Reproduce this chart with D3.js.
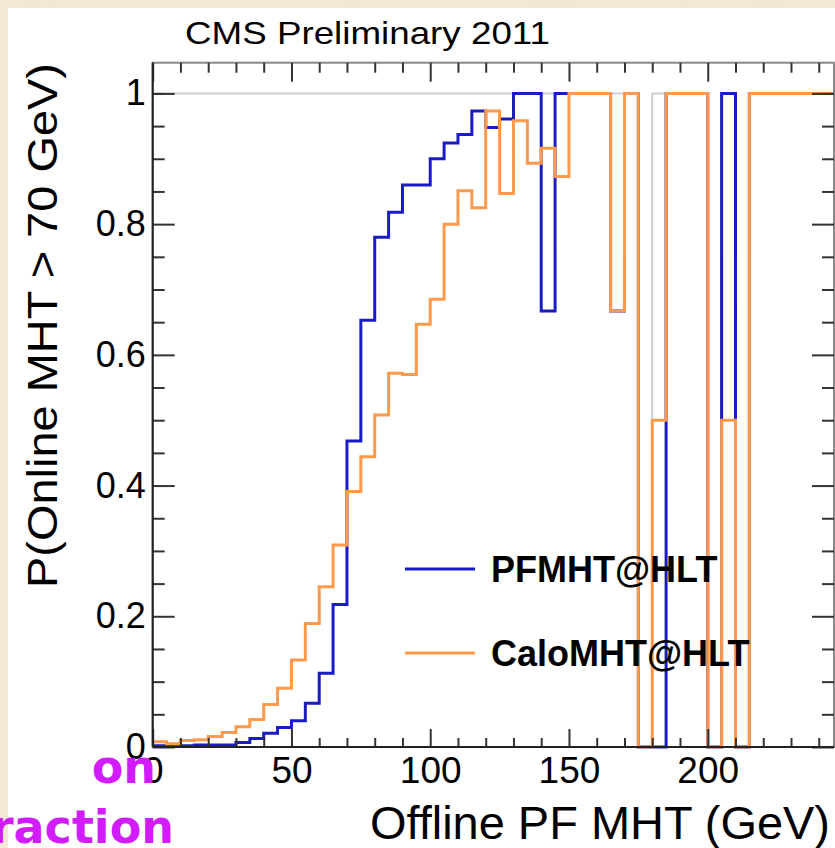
<!DOCTYPE html>
<html lang="en">
<head>
  <meta charset="UTF-8">
  <title>PFMHT vs CaloMHT turn-on</title>
  <style>
  body {
    margin: 0;
    background: #efe2cb;
  }
  svg {
    display: block;
  }
  text {
    font-family: "Liberation Sans", Arial, Helvetica, sans-serif;
  }
  </style>
</head>
<body>
<svg width="835" height="848"></svg>
<script src="https://cdnjs.cloudflare.com/ajax/libs/d3/7.8.5/d3.min.js"></script>
<script>
// lower edges of the 5 GeV bins
var binEdges = [0, 5, 10, 15, 20, 25, 30, 35, 40, 45, 50, 55, 60, 65, 70, 75, 80, 85, 90, 95,
  100, 105, 110, 115, 120, 125, 130, 135, 140, 145, 150, 155, 160, 165, 170, 175, 180, 185, 190, 195,
  200, 205, 210, 215, 220, 225, 230, 235, 240, 245];
var binWidth = 5;

var pfmht = [0.002, 0.002, 0.002, 0.003, 0.003, 0.003, 0.007, 0.013, 0.021, 0.030,
  0.040, 0.067, 0.113, 0.218, 0.468, 0.653, 0.780, 0.818, 0.860, 0.860,
  0.900, 0.924, 0.937, 0.973, 0.948, 0.961, 1, 1, 0.667, 1,
  1, 1, 1, 0.667, 1, 0, 0, 1, 1, 1,
  0, 1, 0, 1, 1, 1, 1, 1, 1, 1];

var calomht = [0.008, 0.005, 0.010, 0.011, 0.016, 0.022, 0.031, 0.042, 0.065, 0.090,
  0.133, 0.189, 0.245, 0.309, 0.391, 0.444, 0.508, 0.572, 0.570, 0.647,
  0.685, 0.800, 0.851, 0.825, 0.973, 0.847, 0.958, 0.893, 0.916, 0.873,
  1, 1, 1, 0.667, 1, 0, 0.5, 1, 1, 1,
  0, 0.5, 0, 1, 1, 1, 1, 1, 1, 1];

// grey reference histogram sitting at 1 (empty where no events)
var reference = [1, 1, 1, 1, 1, 1, 1, 1, 1, 1,
  1, 1, 1, 1, 1, 1, 1, 1, 1, 1,
  1, 1, 1, 1, 1, 1, 1, 1, 1, 1,
  1, 1, 1, 1, 1, 0, 1, 1, 1, 1,
  0, 1, 0, 1, 1, 1, 1, 1, 1, 1];

var xTicks = [0, 50, 100, 150, 200];
var xMinorTicks = [10, 20, 30, 40, 60, 70, 80, 90, 110, 120, 130, 140, 160, 170, 180, 190, 210, 220, 230, 240];
var yTicks = [0, 0.2, 0.4, 0.6, 0.8, 1];
var yMinorTicks = [0.05, 0.1, 0.15, 0.25, 0.3, 0.35, 0.45, 0.5, 0.55, 0.65, 0.7, 0.75, 0.85, 0.9, 0.95, 1.0];
var legendLabels = ["PFMHT@HLT", "CaloMHT@HLT"];
var colors = { pf: "#1b1bc6", calo: "#ff9a4c", ref: "#cfcfcf" };

var svg = d3.select("svg"),
    padLeft = 152.7, padRight = 834, padTop = 62.7, padBottom = 747;

var x = d3.scaleLinear().domain([0, 245.5]).range([padLeft, padRight]);
var y = d3.scaleLinear().domain([0, 1.047]).range([padBottom, padTop]);

// parchment-like backdrop and the white slide panel
var defs = svg.append("defs");
var f = defs.append("filter").attr("id", "paper");
f.append("feTurbulence").attr("type", "fractalNoise").attr("baseFrequency", "0.012 0.09").attr("numOctaves", 3).attr("seed", 4);
f.append("feColorMatrix").attr("values",
  "0 0 0 0 0.93  0 0 0 0 0.85  0 0 0 0 0.74  0 0 0 0.55 0");
f.append("feComposite").attr("in2", "SourceGraphic").attr("operator", "over");

svg.append("rect").attr("width", 835).attr("height", 848).attr("fill", "#f2e6d2").attr("filter", "url(#paper)");
svg.append("rect").attr("x", 8).attr("y", 8).attr("width", 827).attr("height", 840).attr("fill", "#fff");

defs.append("clipPath").attr("id", "plot")
  .append("rect").attr("x", padLeft).attr("y", padTop).attr("width", padRight - padLeft).attr("height", padBottom - padTop + 2);

// histogram outline
function histPoints(vals) {
  var pts = binEdges.map(function(e, i) { return [e, vals[i]]; });
  pts.push([binEdges[binEdges.length - 1] + binWidth, vals[vals.length - 1]]);
  return pts;
}
var line = d3.line()
    .x(function(d) { return x(d[0]); })
    .y(function(d) { return y(d[1]); })
    .curve(d3.curveStepAfter);

var g = svg.append("g").attr("clip-path", "url(#plot)");
[[reference, colors.ref, 2], [pfmht, colors.pf, 3], [calomht, colors.calo, 3]].forEach(function(s) {
  g.append("path")
    .attr("d", line(histPoints(s[0])))
    .attr("fill", "none")
    .attr("stroke", s[1])
    .attr("stroke-width", s[2]);
});

// frame
svg.append("rect")
  .attr("x", padLeft).attr("y", padTop).attr("width", padRight - padLeft).attr("height", padBottom - padTop)
  .attr("fill", "none").attr("stroke", "#888").attr("stroke-width", 2);

function styleAxis(sel) {
  sel.select(".domain").remove();
  sel.selectAll(".tick line").attr("stroke", "#333").attr("stroke-width", 2);
}

// y axes, ticks pointing inwards
svg.append("g").attr("transform", "translate(" + padLeft + ",0)")
  .call(d3.axisLeft(y).tickValues(yMinorTicks).tickSize(-12).tickFormat(""))
  .call(styleAxis);
svg.append("g").attr("transform", "translate(" + padLeft + ",0)")
  .call(d3.axisLeft(y).tickValues(yTicks).tickSize(-22).tickPadding(7).tickFormat(function(d) { return String(d); }))
  .call(styleAxis)
  .attr("font-size", 36).attr("font-family", null)
  .selectAll("text").attr("fill", "#000");
svg.append("g").attr("transform", "translate(" + padRight + ",0)")
  .call(d3.axisRight(y).tickValues(yMinorTicks).tickSize(-12).tickFormat(""))
  .call(styleAxis);
svg.append("g").attr("transform", "translate(" + padRight + ",0)")
  .call(d3.axisRight(y).tickValues(yTicks).tickSize(-22).tickFormat(""))
  .call(styleAxis);

// x axes
svg.append("g").attr("transform", "translate(0," + padBottom + ")")
  .call(d3.axisBottom(x).tickValues(xMinorTicks).tickSize(-9).tickFormat(""))
  .call(styleAxis);
svg.append("g").attr("transform", "translate(0," + padBottom + ")")
  .call(d3.axisBottom(x).tickValues(xTicks).tickSize(-18).tickPadding(10).tickFormat(function(d) { return String(d); }))
  .call(styleAxis)
  .attr("font-size", 37).attr("font-family", null)
  .selectAll("text").attr("fill", "#000");
svg.append("g").attr("transform", "translate(0," + padTop + ")")
  .call(d3.axisTop(x).tickValues(xMinorTicks).tickSize(-10).tickFormat(""))
  .call(styleAxis);
svg.append("g").attr("transform", "translate(0," + padTop + ")")
  .call(d3.axisTop(x).tickValues(xTicks).tickSize(-19).tickFormat(""))
  .call(styleAxis);

// axis frame lines
svg.append("line").attr("x1", padLeft).attr("x2", padLeft).attr("y1", padTop).attr("y2", padBottom)
  .attr("stroke", "#222").attr("stroke-width", 2);
svg.append("line").attr("x1", padLeft).attr("x2", padRight).attr("y1", padBottom).attr("y2", padBottom)
  .attr("stroke", "#222").attr("stroke-width", 2);

// titles
svg.append("text").attr("x", 185).attr("y", 44)
  .attr("font-size", 32).attr("textLength", 365).attr("lengthAdjust", "spacingAndGlyphs")
  .text("CMS Preliminary 2011");
svg.append("text").attr("x", 370).attr("y", 839)
  .attr("font-size", 46).attr("textLength", 460).attr("lengthAdjust", "spacingAndGlyphs")
  .text("Offline PF MHT (GeV)");
svg.append("text").attr("transform", "translate(57,588) rotate(-90)")
  .attr("font-size", 42).attr("textLength", 525).attr("lengthAdjust", "spacingAndGlyphs")
  .text("P(Online MHT > 70 GeV)");

// legend
var leg = svg.append("g");
[[legendLabels[0], colors.pf, 569], [legendLabels[1], colors.calo, 653]].forEach(function(l) {
  leg.append("line").attr("x1", 405).attr("x2", 475).attr("y1", l[2]).attr("y2", l[2])
    .attr("stroke", l[1]).attr("stroke-width", 3);
  leg.append("text").attr("x", 491).attr("y", l[2] + 12.5)
    .attr("font-size", 36).attr("font-weight", "bold").text(l[0]);
});

// leftover slide text peeking in at the bottom left
svg.append("text").attr("x", 156).attr("y", 783).attr("text-anchor", "end")
  .style("font-family", "'DejaVu Sans', Verdana, sans-serif").attr("font-size", 46)
  .attr("font-weight", "bold").attr("fill", "#d21cff").text("on");
svg.append("text").attr("x", 174).attr("y", 843).attr("text-anchor", "end")
  .style("font-family", "'DejaVu Sans', Verdana, sans-serif").attr("font-size", 46)
  .attr("font-weight", "bold").attr("fill", "#d21cff").text("raction");
</script>
</body>
</html>
